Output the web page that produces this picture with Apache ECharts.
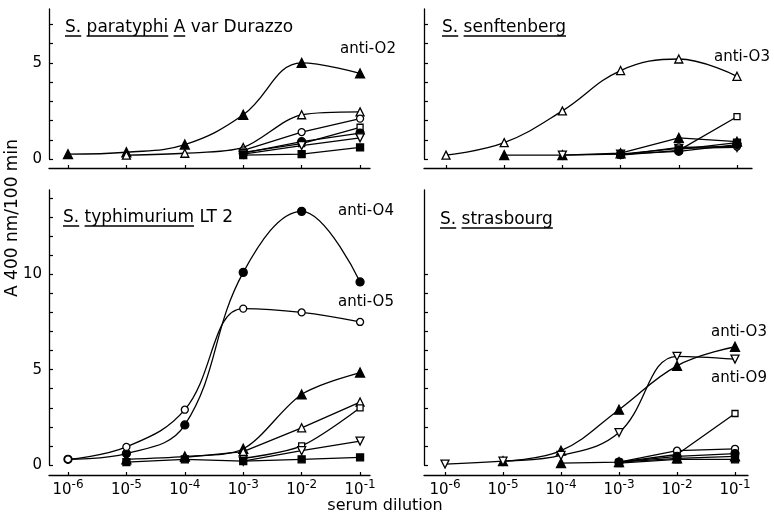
<!DOCTYPE html>
<html><head><meta charset="utf-8">
<script src="https://cdn.jsdelivr.net/npm/echarts@6/dist/echarts.min.js"></script>
<style>html,body{margin:0;padding:0;background:#fff}#c{width:774px;height:512px}</style>
</head><body><div id="c"></div>
<script>
// ---- data ----
const dilutionExp = [-6, -5, -4, -3, -2, -1];
const xTickLabels = ['-6', '-5', '-4', '-3', '-2', '-1'];
const yLabelsTop = [0, 5];
const yLabelsBottom = [0, 5, 10];

// S. paratyphi A var Durazzo
const paraAntiO2       = [0.25, 0.35, 0.75, 2.3, 5.0, 4.45];
const paraOpenTri      = [null, 0.2, 0.3, 0.6, 2.3, 2.45];
const paraOpenCircle   = [null, null, null, 0.45, 1.4, 2.1];
const paraOpenSquare   = [null, null, null, 0.35, 0.8, 1.65];
const paraFilledCircle = [null, null, null, 0.3, 0.9, 1.35];
const paraOpenInvTri   = [null, null, null, 0.25, 0.7, 1.1];
const paraFilledSquare = [null, null, null, 0.2, 0.25, 0.6];

// S. senftenberg
const senfAntiO3       = [0.2, 0.85, 2.5, 4.6, 5.2, 4.3];
const senfFilledTri    = [null, 0.2, 0.2, 0.3, 1.1, 0.9];
const senfOpenInvTri   = [null, null, 0.2, 0.25, 0.55, 0.6];
const senfOpenSquare   = [null, null, null, 0.2, 0.45, 2.2];
const senfOpenCircle   = [null, null, null, 0.2, 0.6, 0.65];
const senfFilledCircle = [null, null, null, 0.25, 0.4, 0.75];
const senfFilledSquare = [null, null, null, null, 0.5, 0.85];

// S. typhimurium LT 2
const typhAntiO4       = [0.3, 0.6, 2.1, 10.1, 13.3, 9.6];
const typhAntiO5       = [0.3, 0.95, 2.9, 8.2, 8.0, 7.5];
const typhFilledTri    = [null, 0.3, 0.45, 0.85, 3.7, 4.85];
const typhOpenTri      = [null, null, 0.4, 0.7, 1.95, 3.3];
const typhOpenSquare   = [null, null, null, 0.35, 1.0, 3.0];
const typhOpenInvTri   = [null, null, null, 0.2, 0.75, 1.25];
const typhFilledSquare = [null, 0.15, 0.3, 0.2, 0.3, 0.4];

// S. strasbourg
const strAntiO3        = [null, 0.2, 0.75, 2.9, 5.2, 6.2];
const strAntiO9        = [0.05, 0.2, 0.5, 1.7, 5.7, 5.55];
const strFilledTri     = [null, null, 0.1, 0.15, 0.35, 0.45];
const strOpenSquare    = [null, null, null, 0.15, 0.55, 2.7];
const strOpenCircle    = [null, null, null, 0.15, 0.75, 0.85];
const strFilledCircle  = [null, null, null, 0.15, 0.45, 0.6];
const strFilledSquare  = [null, null, null, 0.1, 0.3, 0.3];

// ---- styling ----
const FONT = '"DejaVu Sans", sans-serif';
const MARK = {
  triF: { symbol: 'triangle', fill: '#000', rot: 0, size: 9 },
  triO: { symbol: 'triangle', fill: '#fff', rot: 0, size: 8 },
  invO: { symbol: 'triangle', fill: '#fff', rot: 180, size: 8 },
  cirF: { symbol: 'circle', fill: '#000', rot: 0, size: 8 },
  cirO: { symbol: 'circle', fill: '#fff', rot: 0, size: 7 },
  sqF:  { symbol: 'rect', fill: '#000', rot: 0, size: 7 },
  sqO:  { symbol: 'rect', fill: '#fff', rot: 0, size: 6 }
};

// [values, marker, smooth]
const panels = [
  { grid: 0, series: [[paraAntiO2,'triF',0.4],[paraOpenTri,'triO',0.3],[paraOpenCircle,'cirO',0],[paraOpenSquare,'sqO',0],[paraFilledCircle,'cirF',0],[paraOpenInvTri,'invO',0],[paraFilledSquare,'sqF',0]] },
  { grid: 1, series: [[senfAntiO3,'triO',0.4],[senfFilledTri,'triF',0],[senfOpenInvTri,'invO',0],[senfOpenSquare,'sqO',0],[senfOpenCircle,'cirO',0],[senfFilledCircle,'cirF',0],[senfFilledSquare,'sqF',0]] },
  { grid: 2, series: [[typhAntiO4,'cirF',0.4],[typhAntiO5,'cirO',0.4],[typhFilledTri,'triF',0.3],[typhOpenTri,'triO',0],[typhOpenSquare,'sqO',0.3],[typhOpenInvTri,'invO',0],[typhFilledSquare,'sqF',0]] },
  { grid: 3, series: [[strAntiO3,'triF',0.4],[strAntiO9,'invO',0.4],[strFilledTri,'triF',0],[strOpenSquare,'sqO',0],[strOpenCircle,'cirO',0],[strFilledCircle,'cirF',0],[strFilledSquare,'sqF',0]] }
];

const grids = [
  { left: 49,  top: 9,   width: 321, height: 150 },
  { left: 424, top: 9,   width: 328, height: 150 },
  { left: 49,  top: 190, width: 321, height: 275 },
  { left: 424, top: 190, width: 324, height: 275 }
];
const xRanges = [[-6.325, -0.83], [-6.378, -0.742], [-6.325, -0.83], [-6.362, -0.776]];
const yMax = [7.8, 7.8, 14.42, 14.42];
const yTicks = [[0,1,2,3,4,5,6,7],[0,1,2,3,4,5,6,7],[0,1,2,3,4,5,6,7,8,9,10,11,12,13,14],[0,1,2,3,4,5,6,7,8,9,10]];
const xOffset = [9, 9, 10, 10];
const showXLabels = [false, false, true, true];
const yLabelVals = [yLabelsTop, null, yLabelsBottom, null];

const xAxes = grids.map((g, i) => ({
  type: 'value', gridIndex: i, min: xRanges[i][0], max: xRanges[i][1], offset: xOffset[i],
  axisLine: { onZero: false, lineStyle: { color: '#000', width: 1.3 } },
  axisTick: { inside: true, length: 3, customValues: dilutionExp, lineStyle: { color: '#000', width: 1.2 } },
  axisLabel: {
    show: showXLabels[i], customValues: dilutionExp, margin: 4,
    formatter: v => '{b|10}{s|' + xTickLabels[dilutionExp.indexOf(Math.round(v))] + '}',
    rich: {
      b: { fontSize: 15, fontFamily: FONT, color: '#000', verticalAlign: 'bottom' },
      s: { fontSize: 12, fontFamily: FONT, color: '#000', verticalAlign: 'top', padding: [0, 0, 7, 0] }
    }
  },
  splitLine: { show: false }
}));

const yAxes = grids.map((g, i) => ({
  type: 'value', gridIndex: i, min: 0, max: yMax[i],
  axisLine: { show: true, onZero: false, lineStyle: { color: '#000', width: 1.3 } },
  axisTick: { show: true, inside: true, length: 4, customValues: yTicks[i], lineStyle: { color: '#000', width: 1.2 } },
  axisLabel: { show: !!yLabelVals[i], customValues: yLabelVals[i] || [], color: '#000', fontSize: 15, fontFamily: FONT, margin: 7 },
  splitLine: { show: false }
}));

const series = [];
panels.forEach(p => {
  p.series.forEach(([vals, key, sm]) => {
    const m = MARK[key];
    const data = [];
    vals.forEach((v, k) => { if (v !== null) data.push([dilutionExp[k], v]); });
    series.push({
      type: 'line', xAxisIndex: p.grid, yAxisIndex: p.grid, data,
      smooth: sm || false, symbol: m.symbol, symbolSize: m.size, symbolRotate: m.rot, showAllSymbol: true,
      lineStyle: { color: '#000', width: 1.3 },
      itemStyle: { color: m.fill, borderColor: '#000', borderWidth: 1.3 },
      emphasis: { disabled: true }, silent: true, animation: false
    });
  });
});

// ---- text decorations ----
const titleFont = '17px ' + FONT;
const cvs = document.createElement('canvas').getContext('2d');
function tw(t, font) { cvs.font = font; return cvs.measureText(t).width; }

const titles = [
  { x: 65,  y: 27.5, text: 'S. paratyphi A var Durazzo', ul: ['S.', 'paratyphi', 'A'], uy: 36 },
  { x: 442, y: 27.5, text: 'S. senftenberg', ul: ['S.', 'senftenberg'], uy: 36 },
  { x: 63,  y: 217.5, text: 'S. typhimurium LT 2', ul: ['S.', 'typhimurium'], uy: 226 },
  { x: 440, y: 220, text: 'S. strasbourg', ul: ['S.', 'strasbourg'], uy: 228 }
];
const graphic = [];
titles.forEach(t => {
  graphic.push({ type: 'text', style: { x: t.x, y: t.y, text: t.text, font: titleFont, fill: '#000', textVerticalAlign: 'middle' }, silent: true });
  let pos = 0;
  t.ul.forEach(w => {
    const idx = t.text.indexOf(w, pos);
    const x0 = t.x + tw(t.text.slice(0, idx), titleFont);
    const x1 = x0 + tw(w, titleFont);
    graphic.push({ type: 'line', shape: { x1: x0, y1: t.uy, x2: x1, y2: t.uy }, style: { stroke: '#000', lineWidth: 1.5 }, silent: true });
    pos = idx + w.length;
  });
});
const curveLabels = [
  { x: 340, y: 49, text: 'anti-O2' },
  { x: 714, y: 57, text: 'anti-O3' },
  { x: 338, y: 211, text: 'anti-O4' },
  { x: 338, y: 302, text: 'anti-O5' },
  { x: 711, y: 332, text: 'anti-O3' },
  { x: 711, y: 378, text: 'anti-O9' }
];
curveLabels.forEach(l => graphic.push({ type: 'text', style: { x: l.x, y: l.y, text: l.text, font: '15px ' + FONT, fill: '#000', textVerticalAlign: 'middle' }, silent: true }));
graphic.push({ type: 'text', x: 385, y: 506, style: { x: 0, y: 0, text: 'serum dilution', font: '16px ' + FONT, fill: '#000', textAlign: 'center', textVerticalAlign: 'middle' }, silent: true });
graphic.push({ type: 'text', x: 13, y: 218, rotation: Math.PI / 2, style: { x: 0, y: 0, text: 'A 400 nm/100 min', font: '17px ' + FONT, fill: '#000', textAlign: 'center', textVerticalAlign: 'middle' }, silent: true });

const chart = echarts.init(document.getElementById('c'), null, { renderer: 'canvas' });
chart.setOption({
  backgroundColor: '#fff',
  animation: false,
  grid: grids,
  xAxis: xAxes,
  yAxis: yAxes,
  series,
  graphic
});
</script></body></html>
